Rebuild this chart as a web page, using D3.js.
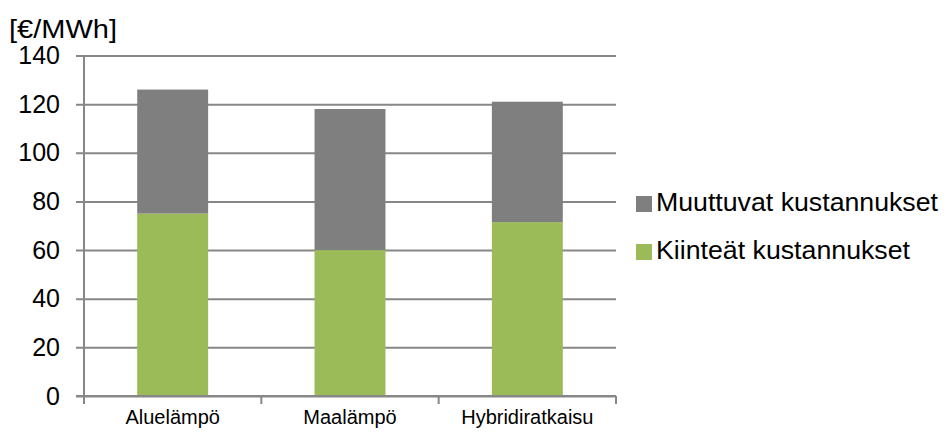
<!DOCTYPE html>
<html>
<head>
<meta charset="utf-8">
<script src="https://cdn.jsdelivr.net/npm/d3@7"></script>
<style>
  html, body { margin: 0; padding: 0; background: #fff; }
  svg { display: block; font-family: "Liberation Sans", Arial, sans-serif; }
</style>
</head>
<body>
<svg id="chart" width="944" height="432"></svg>
<script>
// Heating cost comparison, €/MWh
const categories = ["Aluelämpö", "Maalämpö", "Hybridiratkaisu"];
const fixedCosts = [75, 60, 71.5];      // Kiinteät kustannukset
const variableCosts = [51, 58, 49.5];   // Muuttuvat kustannukset
const yTicks = [0, 20, 40, 60, 80, 100, 120, 140];
const seriesNames = ["Kiinteät kustannukset", "Muuttuvat kustannukset"];
const seriesColors = ["#9bbb59", "#7f7f7f"];
const unitLabel = "[€/MWh]";

const svg = d3.select("#chart");
const plot = { left: 84, right: 616, top: 55.5, bottom: 396 };

const x = d3.scaleBand().domain(categories).range([plot.left, plot.right]).paddingInner(0.6).paddingOuter(0.3);
const y = d3.scaleLinear().domain([0, 140]).range([plot.bottom, plot.top]);

// Horizontal gridlines with value labels
const yAxis = d3.axisLeft(y).tickValues(yTicks).tickSize(-(plot.right - plot.left)).tickFormat(d => d).tickPadding(24);
const gy = svg.append("g").attr("transform", `translate(${plot.left},0)`).call(yAxis);
gy.select(".domain").remove();
gy.selectAll(".tick line").attr("stroke", "#878787").attr("stroke-width", 2).attr("x1", -8);
gy.selectAll(".tick text").attr("fill", "#000").attr("font-size", 25).attr("font-family", "Liberation Sans, Arial, sans-serif");

// Stack the two cost components
const rows = categories.map((c, i) => ({ cat: c, fixed: fixedCosts[i], variable: variableCosts[i] }));
const stack = d3.stack().keys(["fixed", "variable"])(rows);

svg.append("g").selectAll("g").data(stack).join("g")
  .attr("fill", (d, i) => seriesColors[i])
  .selectAll("rect").data(d => d).join("rect")
  .attr("x", d => x(d.data.cat))
  .attr("width", x.bandwidth())
  .attr("y", d => y(d[1]))
  .attr("height", d => y(d[0]) - y(d[1]));

// Left axis line
svg.append("line").attr("x1", plot.left).attr("x2", plot.left)
  .attr("y1", plot.top).attr("y2", plot.bottom)
  .attr("stroke", "#878787").attr("stroke-width", 2);

// Category axis with ticks between groups
const boundaries = [0, 1, 2, 3].map(i => plot.left + i * (plot.right - plot.left) / 3);
const gx = svg.append("g");
gx.append("line").attr("x1", plot.left - 8).attr("x2", plot.right)
  .attr("y1", plot.bottom).attr("y2", plot.bottom)
  .attr("stroke", "#878787").attr("stroke-width", 2);
gx.selectAll("line.tick").data(boundaries).join("line").attr("class", "tick")
  .attr("x1", d => d).attr("x2", d => d)
  .attr("y1", plot.bottom).attr("y2", plot.bottom + 8)
  .attr("stroke", "#878787").attr("stroke-width", 2);
gx.selectAll("text").data(categories).join("text")
  .attr("x", d => x(d) + x.bandwidth() / 2)
  .attr("y", plot.bottom + 28)
  .attr("text-anchor", "middle")
  .attr("font-size", 20)
  .attr("fill", "#000")
  .text(d => d);

// Unit label
svg.append("text").attr("x", 9).attr("y", 38).attr("font-size", 25)
  .attr("textLength", 108).attr("lengthAdjust", "spacingAndGlyphs")
  .attr("fill", "#000").text(unitLabel);

// Legend (variable costs listed first)
const legendItems = [1, 0].map(i => ({ name: seriesNames[i], color: seriesColors[i] }));
const lg = svg.append("g").selectAll("g").data(legendItems).join("g")
  .attr("transform", (d, i) => `translate(636,${211 + i * 48})`);
lg.append("rect").attr("x", 0).attr("y", -15).attr("width", 16).attr("height", 16).attr("fill", d => d.color);
lg.append("text").attr("x", 20).attr("y", 0).attr("font-size", 25).attr("fill", "#000")
  .attr("textLength", (d, i) => i === 0 ? 282 : 254).attr("lengthAdjust", "spacingAndGlyphs")
  .text(d => d.name);
</script>
</body>
</html>
